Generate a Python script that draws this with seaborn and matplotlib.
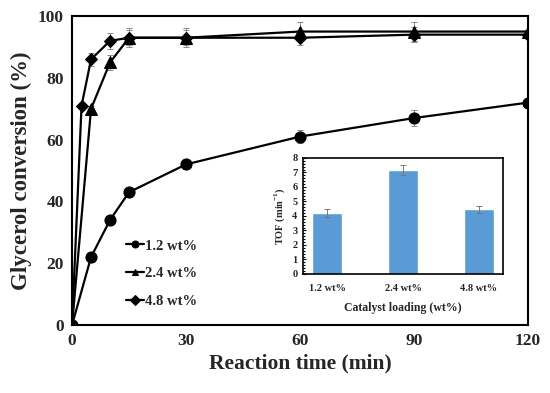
import numpy as np
import pandas as pd
import matplotlib
matplotlib.use("Agg")
import matplotlib.pyplot as plt
from matplotlib.ticker import MultipleLocator, AutoMinorLocator
import seaborn as sns

# ---- data ----
t_low = [0, 5, 10, 15, 30, 60, 90, 120]
conv_low = [0, 22, 34, 43, 52, 61, 67, 72]
err_low = [0, 0.8, 0.8, 0.8, 1.5, 2.0, 2.5, 0.8]

t_mid = [0, 5, 10, 15, 30, 60, 90, 120]
conv_mid = [0, 70, 85, 93, 93, 95, 95, 95]
err_mid = [0, 1.0, 2.5, 3.0, 3.0, 3.0, 3.0, 0.5]

t_high = [0, 2.5, 5, 10, 15, 30, 60, 90, 120]
conv_high = [0, 71, 86, 92, 93, 93, 93, 94, 94]
err_high = [0, 0.5, 2.0, 2.5, 2.5, 2.5, 2.5, 2.5, 0.5]

series_labels = ["1.2 wt%", "2.4 wt%", "4.8 wt%"]

inset_cats = ["1.2 wt%", "2.4 wt%", "4.8 wt%"]
tof = [4.2, 7.2, 4.45]
tof_err = [0.25, 0.35, 0.25]

# ---- style ----
sns.set_theme(style="white")
plt.rcParams["font.family"] = ["Liberation Serif", "DejaVu Serif"]
plt.rcParams["font.weight"] = "bold"
plt.rcParams["axes.labelweight"] = "bold"
plt.rcParams["mathtext.fontset"] = "custom"
plt.rcParams["mathtext.rm"] = "Liberation Serif:bold"
plt.rcParams["mathtext.bf"] = "Liberation Serif:bold"

fig = plt.figure(figsize=(5.5, 3.93), dpi=100)
ax = fig.add_axes([0.131, 0.173, 0.829, 0.786])

frames = []
for lab, t, c in zip(series_labels, [t_low, t_mid, t_high], [conv_low, conv_mid, conv_high]):
    frames.append(pd.DataFrame({"time": t, "conv": c, "loading": lab}))
df = pd.concat(frames, ignore_index=True)

markers = {"1.2 wt%": "o", "2.4 wt%": "^", "4.8 wt%": "D"}
sizes = {"1.2 wt%": 8, "2.4 wt%": 8, "4.8 wt%": 6}

for lab, t, c, e in zip(series_labels, [t_low, t_mid, t_high],
                        [conv_low, conv_mid, conv_high],
                        [err_low, err_mid, err_high]):
    ax.errorbar(t, c, yerr=e, fmt="none", ecolor="#888888", elinewidth=0.7,
                capsize=2, capthick=0.7, zorder=2)
    sub = df[df["loading"] == lab]
    sns.lineplot(data=sub, x="time", y="conv", ax=ax, color="black",
                 linewidth=1.6, marker=markers[lab], markersize=sizes[lab],
                 markeredgecolor="black", markerfacecolor="black",
                 label=lab, zorder=3)

ax.set_xlim(0, 120)
ax.set_ylim(0, 100)
ax.xaxis.set_major_locator(MultipleLocator(30))
ax.xaxis.set_minor_locator(MultipleLocator(15))
ax.yaxis.set_major_locator(MultipleLocator(20))
ax.yaxis.set_minor_locator(MultipleLocator(10))
ax.tick_params(which="both", direction="in", color="black", width=1.2)
ax.tick_params(which="major", length=3)
ax.tick_params(which="minor", length=3)
ax.tick_params(labelsize=12.5, pad=6)
for lbl in ax.get_xticklabels() + ax.get_yticklabels():
    lbl.set_fontweight("bold")
for sp in ax.spines.values():
    sp.set_color("black")
    sp.set_linewidth(1.5)

ax.set_xlabel("Reaction time (min)", fontsize=15.5, fontweight="bold", labelpad=3)
ax.set_ylabel("Glycerol conversion (%)", fontsize=16.5, fontweight="bold", labelpad=4)

leg = ax.legend(loc="lower left", bbox_to_anchor=(0.09, 0.012), frameon=False,
                handlelength=1.2, handletextpad=0.1, labelspacing=1.0,
                prop={"family": "Liberation Serif", "weight": "bold", "size": 10.5})
for h in leg.legend_handles:
    h.set_markersize(5)

# ---- inset ----
ins = fig.add_axes([0.551, 0.303, 0.364, 0.295])
idf = pd.DataFrame({"cat": inset_cats, "tof": tof})
sns.barplot(data=idf, x="cat", y="tof", ax=ins, color="#5B9BD5",
            saturation=1, width=0.4, errorbar=None)
ins.errorbar(range(len(tof)), tof, yerr=tof_err, fmt="none", ecolor="#777777",
             elinewidth=0.7, capsize=2, capthick=0.7)
ins.set_ylim(0, 8)
ins.yaxis.set_major_locator(MultipleLocator(1))
ins.yaxis.set_minor_locator(AutoMinorLocator(5))
ins.tick_params(axis="y", which="both", direction="in", left=True, color="black", width=0.8)
ins.tick_params(axis="y", which="major", length=2.5, labelsize=7.5, pad=4)
ins.tick_params(axis="y", which="minor", length=1.5)
ins.tick_params(axis="x", length=0, labelsize=7.5, pad=7)
for lbl in ins.get_xticklabels() + ins.get_yticklabels():
    lbl.set_fontweight("bold")
for sp in ins.spines.values():
    sp.set_color("black")
    sp.set_linewidth(1.2)
ins.set_xlabel("Catalyst loading (wt%)", fontsize=8.5, fontweight="bold", labelpad=7)
ins.set_ylabel("TOF (min$^{-1}$)", fontsize=7.5, fontweight="bold", labelpad=4)

fig.savefig("out.png", dpi=100)
